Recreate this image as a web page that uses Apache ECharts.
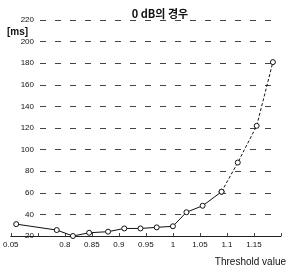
<!DOCTYPE html>
<html>
<head>
<meta charset="utf-8">
<script src="https://cdn.jsdelivr.net/npm/echarts@6/dist/echarts.min.js"></script>
<style>
  html, body { margin: 0; padding: 0; background: #fff; }
  #chart { width: 288px; height: 271px; }
</style>
</head>
<body>
<div id="chart"></div>
<script>
// values
const thresholds = [0.71, 0.785, 0.815, 0.845, 0.88, 0.91, 0.94, 0.97, 1.0, 1.025, 1.055, 1.09, 1.12, 1.155, 1.185]
const delayMs = [31, 25.5, 20, 23, 24, 27, 27, 28, 29, 42, 48, 61, 88, 122, 181]
const xTickValues = [0.7, 0.8, 0.85, 0.9, 0.95, 1, 1.05, 1.1, 1.15]
const xTickText = ['0.05', '0.8', '0.85', '0.9', '0.95', '1', '1.05', '1.1', '1.15']
const yTicks = [20, 40, 60, 80, 100, 120, 140, 160, 180, 200, 220]

const solidPart = 12  // line gets dashed after this point

const chart = echarts.init(document.getElementById('chart'))

const points = thresholds.map((t, i) => [t, delayMs[i]])

const font = 'Liberation Sans'

const options = {
  animation: false,
  title: {
    text: '0 dB의 경우',
    left: 155,
    textAlign: 'center',
    top: 3,
    textStyle: { fontFamily: 'Noto Sans CJK KR', fontSize: 11, fontWeight: 'bold', color: '#111' }
  },
  graphic: [
    { type: 'text', left: 7, top: 27, style: { text: '[ms]', font: 'bold 10px ' + font, fill: '#111' } },
    { type: 'text', right: 2, top: 257, style: { text: 'Threshold value', font: '10px ' + font, fill: '#111' } }
  ],
  grid: [
    { left: 8, right: 7, top: 20, height: 216 },
    { left: 40, right: 10, top: 20, height: 216 }
  ],
  xAxis: [
    {
      gridIndex: 0,
      type: 'value',
      min: 0.7,
      max: 1.2,
      interval: 0.05,
      splitLine: { show: false },
      axisLine: { onZero: false, lineStyle: { color: '#222', width: 1 } },
      axisTick: { inside: true, length: 3, lineStyle: { color: '#444' } },
      axisLabel: {
        margin: 5,
        fontSize: 8,
        fontFamily: font,
        color: '#111',
        formatter: (v) => {
          const i = xTickValues.findIndex(x => Math.abs(x - v) < 1e-6)
          return i >= 0 ? xTickText[i] : ''
        }
      }
    },
    { gridIndex: 1, type: 'value', show: false, min: 0, max: 1 }
  ],
  yAxis: [
    {
      gridIndex: 0,
      type: 'value',
      min: 20,
      max: 220,
      interval: 20,
      axisLine: { show: false },
      axisTick: { show: false },
      axisLabel: { show: false },
      splitLine: { show: false }
    },
    {
      gridIndex: 1,
      type: 'value',
      min: 20,
      max: 220,
      interval: 20,
      axisLine: { show: false },
      axisTick: { show: false },
      axisLabel: {
        margin: 6,
        fontSize: 8,
        fontFamily: font,
        color: '#111',
        formatter: (v) => yTicks.includes(v) ? String(v) : ''
      },
      splitLine: { lineStyle: { color: '#444', type: [6, 9], width: 1 } }
    }
  ],
  series: [
    {
      type: 'line',
      xAxisIndex: 0,
      yAxisIndex: 0,
      data: points.slice(0, solidPart),
      symbol: 'circle',
      symbolSize: 5,
      itemStyle: { color: '#fff', borderColor: '#111', borderWidth: 1 },
      lineStyle: { color: '#111', width: 1 }
    },
    {
      type: 'line',
      xAxisIndex: 0,
      yAxisIndex: 0,
      data: points.slice(solidPart - 1),
      symbol: 'circle',
      symbolSize: 5,
      itemStyle: { color: '#fff', borderColor: '#111', borderWidth: 1 },
      lineStyle: { color: '#111', width: 1, type: [3, 2] }
    }
  ]
}

chart.setOption(options)
</script>
</body>
</html>
